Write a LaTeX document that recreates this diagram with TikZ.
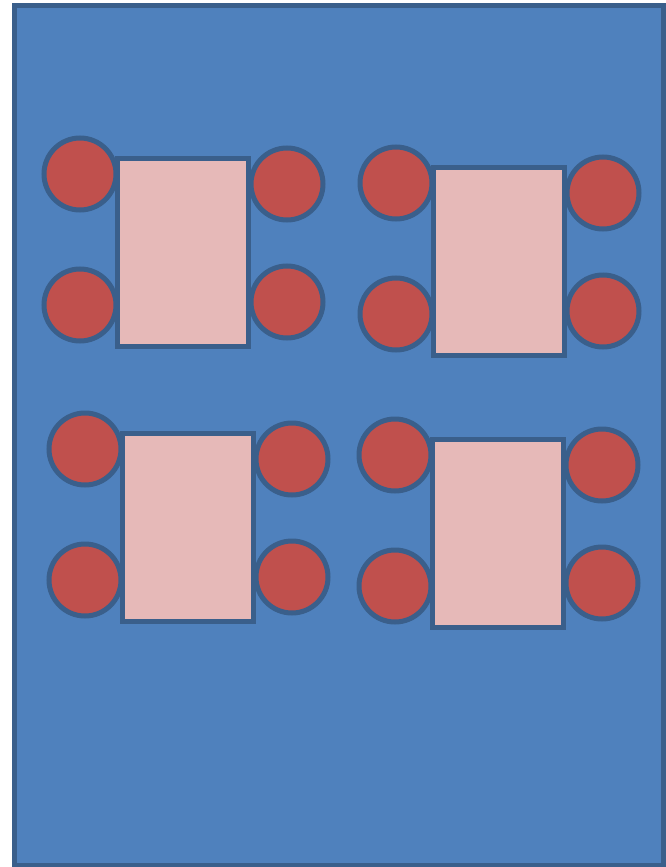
\documentclass[tikz,border=0pt]{standalone}
\definecolor{bgblue}{HTML}{4F81BD}
\definecolor{edgeblue}{HTML}{3A5F8B}
\definecolor{seatred}{HTML}{C0504D}
\definecolor{tablepink}{HTML}{E6B9B8}
\begin{document}
\begin{tikzpicture}[x=1pt,y=-1pt,
  room/.style={draw=edgeblue,fill=bgblue,line width=5pt},
  seat/.style={draw=edgeblue,fill=seatred,line width=5pt,circle,minimum size=72pt,inner sep=0pt},
  tablebox/.style={draw=edgeblue,fill=tablepink,line width=5pt,rectangle,minimum width=131pt,minimum height=188pt,inner sep=0pt}]
\useasboundingbox (0,0) rectangle (665,867);
\draw[room] (14,6) rectangle (663,865.5);
\foreach \n/\dx/\dy in {a/0/0, b/316/9, c/5/275, d/315/281} {
  \begin{scope}[shift={(\dx,\dy)}]
    \node[seat] (\n l1) at (80,174) {};
    \node[seat] (\n l2) at (80,305) {};
    \node[seat] (\n r1) at (287,184) {};
    \node[seat] (\n r2) at (287,302) {};
    \node[tablebox] (\n t) at (183,252.5) {};
  \end{scope}
}
\end{tikzpicture}
\end{document}
